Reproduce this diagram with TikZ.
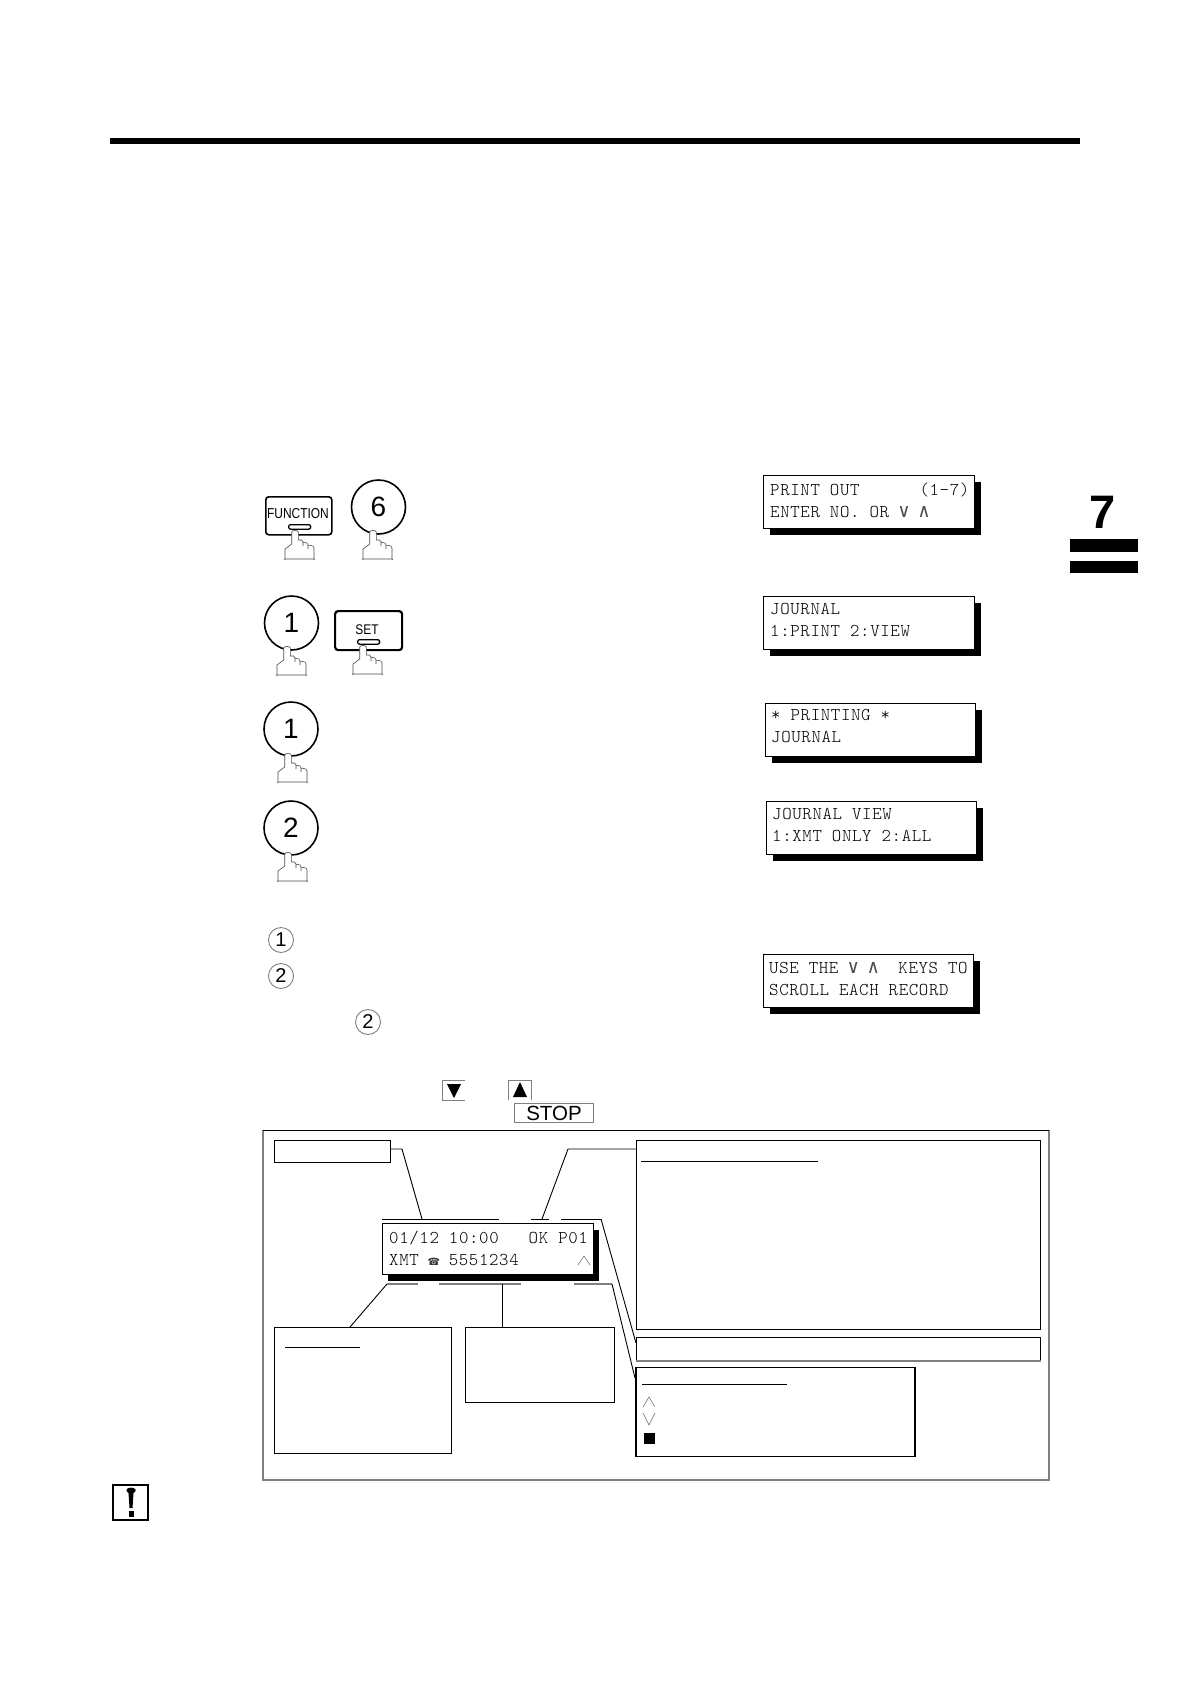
\documentclass[tikz,border=0pt]{standalone}
\usepackage{fontspec}
\setmainfont{Liberation Sans}
\setmonofont{Latin Modern Mono Light}[LetterSpace=3.5]
\newfontfamily\symfont{DejaVu Sans Mono}
\newfontfamily\phonefont{DejaVu Sans}
\usetikzlibrary{shadows}
\definecolor{midgrey}{gray}{0.5}
\newcommand{\lcdfont}{\fontsize{18}{22}\selectfont\ttfamily\spaceskip=10pt\relax\xspaceskip=10pt\relax}
\newcommand{\veeg}{\makebox[10pt]{\color{black!70}\symfont\fontsize{19}{22}\selectfont ∨}}
\newcommand{\wedgeg}{\makebox[10pt]{\color{black!70}\symfont\fontsize{19}{22}\selectfont ∧}}
\tikzset{
  lcd/.style={draw=black,line width=1pt,fill=white,anchor=north west,inner sep=0pt,
    minimum height=53pt,
    drop shadow={shadow xshift=6pt,shadow yshift=-6pt,fill=black,opacity=1}},
  lcdtext/.style={anchor=west,inner sep=0pt,align=left,font=\lcdfont},
  keycirc/.style={circle,draw=black,line width=1.6pt,minimum size=54pt,inner sep=0pt,fill=white,font=\fontsize{28}{28}\selectfont},
  smallcirc/.style={circle,draw=midgrey,line width=0.9pt,minimum size=25pt,inner sep=0pt,font=\fontsize{20}{20}\selectfont},
  keybtn/.style={draw=black,rounded corners=3pt,line width=#1,fill=white,anchor=north west,inner sep=0pt},
  slot/.style={draw=black,fill=white,line width=1.3pt,rounded corners=2pt,anchor=north west,inner sep=0pt,minimum width=22pt,minimum height=4.5pt},
  infobox/.style={draw=black,line width=1pt,fill=white,anchor=north west,inner sep=0pt},
  conn/.style={draw=black,line width=0.9pt},
  tie/.style={draw=black,line width=1pt},
  greytie/.style={draw=midgrey,line width=1.2pt},
  chev/.style={draw=black!60,line width=0.5pt},
  hand/.pic={
    \draw[draw=black!70,fill=white,line width=0.6pt]
      (-3.3,13) -- (-3.3,1) .. controls (-3.3,-1) and (3.3,-1) .. (3.3,1) -- (3.3,9)
      -- (6.5,9) -- (8,11) -- (8,15) -- (8,11) -- (12,12) -- (13,14) -- (13,18) -- (13,14) -- (18,15) -- (19,17) -- (19,28)
      -- (-10,28) -- (-10,18) -- cycle;
    \draw[draw=black!70,line width=0.6pt] (-11,29) -- (-10,28) (19,28) -- (20,29);
  }
}
\begin{document}
\begin{tikzpicture}[x=1pt,y=-1pt]
\useasboundingbox (0,0) rectangle (1190,1684);
% top rule and chapter tab
\fill[black] (110,137.5) rectangle (1080,144);
\node[anchor=center,inner sep=0pt,font=\fontsize{47}{47}\selectfont\bfseries] (chap) at (1103,512) {7};
\fill[black] (1070,539) rectangle (1138,552);
\fill[black] (1070,561) rectangle (1138,573);

% keys row 1
\node[keybtn=1.6pt,minimum width=66pt,minimum height=38pt] (kfunc) at (265,496) {};
\node[inner sep=0pt,font=\fontsize{14.4}{14.4}\selectfont,xscale=0.83] (lfunc) at (298,514) {FUNCTION};
\node[slot] (sfunc) at (288,524) {};
\pic at (295,531) {hand};
\node[keycirc] (k6) at (378.5,507) {6};
\pic at (373,531) {hand};
% keys row 2
\node[keycirc] (k1a) at (291.5,623) {1};
\pic at (287,647) {hand};
\node[keybtn=2.2pt,minimum width=67pt,minimum height=39pt] (kset) at (334,610) {};
\node[inner sep=0pt,font=\fontsize{14}{14}\selectfont,xscale=0.85] (lset) at (367,630) {SET};
\node[slot] (sset) at (357,639) {};
\pic at (363,646) {hand};
% keys row 3, 4
\node[keycirc] (k1b) at (291,729) {1};
\pic at (288,754) {hand};
\node[keycirc] (k2) at (291,828) {2};
\pic at (288,853) {hand};

% LCDs
\node[lcd,minimum width=211pt] (lcda) at (763,475) {};
\node[lcdtext] (ta) at (770,502) {\strut PRINT~OUT~~~~~~(1-7)\\ENTER~NO.~OR~\veeg~\wedgeg\strut};
\node[lcd,minimum width=211pt] (lcdb) at (763,596) {};
\node[lcdtext] (tb) at (770,621) {\strut JOURNAL\\1:PRINT~2:VIEW\strut};
\node[lcd,minimum width=210pt] (lcdc) at (765,703) {};
\node[lcdtext] (tc) at (771,727.5) {\strut *~PRINTING~*\\JOURNAL\strut};
\node[lcd,minimum width=210pt] (lcdd) at (766,801) {};
\node[lcdtext] (td) at (772,826.5) {\strut JOURNAL~VIEW\\1:XMT~ONLY~2:ALL\strut};
\node[lcd,minimum width=210pt] (lcde) at (763,954) {};
\node[lcdtext] (te) at (769,980) {\strut USE~THE~\veeg~\wedgeg~~KEYS~TO\\SCROLL~EACH~RECORD\strut};

% small circled numbers
\node[smallcirc] (c1) at (281,940) {1};
\node[smallcirc] (c2) at (281,976) {2};
\node[smallcirc] (c3) at (368,1022) {2};

% scroll keys
\draw[draw=midgrey,line width=1pt] (465,1080) -- (442,1080) -- (442,1100) -- (465,1100);
\fill[black] (447,1084) -- (461,1084) -- (454,1098) -- cycle;
\draw[draw=midgrey,line width=1pt] (508,1100) -- (508,1080) -- (531,1080) -- (531,1100);
\fill[black] (513,1097) -- (527,1097) -- (520,1082) -- cycle;
\node[draw=midgrey,line width=1pt,anchor=north west,inner sep=0pt,minimum width=79pt,minimum height=19pt,font=\fontsize{20.5}{20.5}\selectfont] (kstop) at (514,1103) {STOP};

% outer frame
\draw[draw=midgrey,line width=1.2pt] (263,1130) -- (263,1480) -- (1049,1480) -- (1049,1130);
\draw[draw=black,line width=1pt] (263,1130) -- (1049,1130);

% info boxes
\node[infobox,minimum width=116pt,minimum height=22pt] (bmode) at (273.5,1140) {};
\node[infobox,minimum width=404pt,minimum height=189pt] (bresult) at (636,1140) {};
\node[infobox,minimum width=404pt,minimum height=23pt] (berror) at (636,1337) {};
\draw[draw=midgrey,line width=1.3pt] (berror.south west) -- (berror.south east);
\node[infobox,line width=1.5pt,minimum width=279pt,minimum height=89pt] (blegend) at (635,1366.5) {};
\node[infobox,minimum width=177pt,minimum height=126pt] (bcomm) at (273.5,1327) {};
\node[infobox,minimum width=149pt,minimum height=75pt] (bstation) at (465,1327) {};
\draw[tie] (285,1347) -- (360,1347);
\draw[tie] (641,1161) -- (818,1161);
\draw[tie] (642,1384) -- (787,1384);

% legend marks
\draw[chev] (643,1407) -- (649,1397) -- (655,1407);
\draw[chev] (643,1413) -- (649,1425) -- (655,1413);
\fill[black] (644,1433) rectangle (655,1444);

% display
\node[lcd,minimum width=211pt,minimum height=51pt] (disp) at (381.5,1223) {};
\node[lcdtext] (tdisp) at (389,1250.5) {\strut 01/12~10:00~~~OK~P01\\XMT~\makebox[10pt]{\color{black!80}\phonefont\fontsize{10}{22}\selectfont ☎}~5551234\strut};
\draw[chev] (578,1265) -- (584,1256) -- (590,1265);

% named connector points
\coordinate (oaL) at (382,1219); \coordinate (oaT) at (422,1219); \coordinate (oaR) at (499,1219);
\coordinate (obL) at (531,1219); \coordinate (obT) at (542,1219); \coordinate (obR) at (549,1219);
\coordinate (ocL) at (561,1219); \coordinate (ocR) at (601,1219);
\coordinate (uaT) at (387,1284); \coordinate (uaR) at (418,1284);
\coordinate (ubL) at (439,1284); \coordinate (ubT) at (502,1284); \coordinate (ubR) at (521,1284);
\coordinate (ucL) at (574,1284); \coordinate (ucR) at (612,1284);
\coordinate (pmode) at (391,1149); \coordinate (kmode) at (402,1149);
\coordinate (presult) at (636,1149); \coordinate (kresult) at (568,1149);
\coordinate (perror) at (636,1343); \coordinate (plegend) at (635,1378);
\coordinate (pcomm) at (350,1327); \coordinate (pstation) at (502,1327);

% brackets over / under the display
\draw[tie] (oaL) -- (oaR);
\draw[tie] (obL) -- (obR);
\draw[tie] (ocL) -- (ocR);
\draw[greytie] (uaT) -- (uaR);
\draw[greytie] (ubL) -- (ubR);
\draw[greytie] (ucL) -- (ucR);

% connectors
\draw[conn] (pmode) -- (kmode) -- (oaT);
\draw[conn] (presult) -- (kresult) -- (obT);
\draw[conn] (ocR) -- (perror);
\draw[conn] (ucR) -- (plegend);
\draw[conn] (uaT) -- (pcomm);
\draw[conn] (ubT) -- (pstation);

% caution mark
\node[draw=black,line width=1.7pt,anchor=north west,inner sep=0pt,minimum size=35pt] (caution) at (112,1484) {};
\fill[black] (126.5,1489.5) .. controls (127.5,1487) and (134.5,1487) .. (135.5,1489.5) -- (135.5,1491) -- (133.5,1493) -- (132.5,1508) -- (129.5,1508) -- (128.5,1493) -- (126.5,1491) -- cycle;
\fill[black] (128.5,1511) rectangle (133.5,1517);
\end{tikzpicture}
\end{document}
